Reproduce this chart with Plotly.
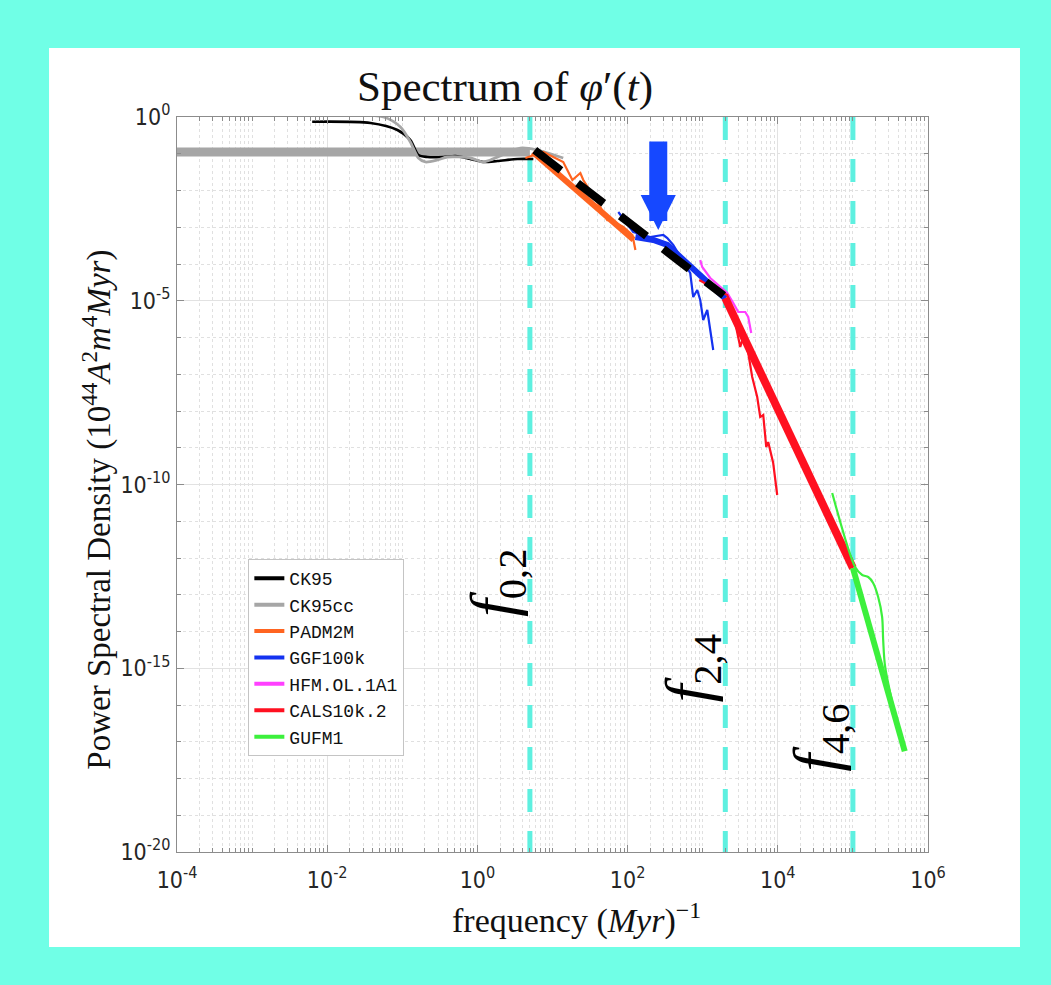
import numpy as np
import plotly.graph_objects as go

# ---------------- spectra: frequency (Myr^-1) and PSD ----------------
F_CK95 = [0.00631, 0.0377, 0.0861, 0.128, 0.164, 0.216, 0.353, 0.51, 0.807, 1.20, 1.85, 3.41, 5.56]
P_CK95 = [0.745, 0.687, 0.443, 0.237, 0.0925, 0.0816, 0.0816, 0.0868, 0.072, 0.0597, 0.0635, 0.072, 0.072]

F_CK95CC = [0.0118, 0.0561, 0.0945, 0.128, 0.164, 0.203, 0.294, 0.399, 0.807, 1.17, 1.49, 3.73, 6.29, 13.9]
P_CK95CC = [1.13, 1.0, 0.535, 0.209, 0.0766, 0.0597, 0.0676, 0.0816, 0.0766, 0.0597, 0.0676, 0.143, 0.126, 0.0766]

F_PADM2M = [4.35, 7.55, 13.9, 18.4, 23.5, 25.7, 43.3, 53.7, 58.9, 87.6, 116, 127]
P_PADM2M = [0.0766, 0.112, 0.0597, 0.0193, 0.0299, 0.0193, 3.56e-3, 1.57e-3, 1.57e-3, 1.02e-3, 6.15e-4, 2.4e-4]

F_GGF100K = [75.2, 119, 200, 299, 338, 405, 682, 748, 846, 927, 1016, 1150, 1260, 1381]
P_GGF100K = [2.6e-3, 7.4e-4, 5.43e-4, 6.15e-4, 5.1e-4, 3.29e-4, 5.69e-5, 1.26e-5, 1.96e-5,
             1.05e-5, 2.99e-6, 5.6e-6, 1.6e-6, 4.57e-7]

F_HFM = [927, 986, 1260, 1713, 2125, 2553, 2972, 3684, 4040, 4427]
P_HFM = [1.28e-4, 8.28e-5, 4.16e-5, 2.37e-5, 1.63e-5, 8.7e-6, 4.94e-6, 4.94e-6, 3.61e-6, 1.33e-6]

F_CALS = [900, 1381, 2125, 2712, 3162, 3467, 4040, 4563, 5321, 5834, 6397, 7014, 7453, 8685, 9820]
P_CALS = [3.67e-5, 2.22e-5, 1.43e-5, 2.48e-6, 5.5e-7, 1.03e-6, 3.79e-7, 8.4e-8, 2.4e-8,
          6.87e-9, 7.78e-9, 1.05e-9, 1.43e-9, 3.84e-10, 5.18e-11]

F_GUFM1 = [5.30e4, 1.07e5, 1.33e5, 1.6e5, 1.86e5, 2.17e5, 2.45e5, 2.53e5, 2.69e5, 4.66e5]
P_GUFM1 = [5.87e-11, 5.69e-13, 3.45e-13, 3.04e-13, 2.09e-13, 8.7e-14, 2.48e-14, 5.9e-15, 1.08e-15, 5.97e-18]

# ---------------- piecewise power-law fits ----------------
FIT_CK95CC_F = [1e-4, 5]
FIT_CK95CC_P = [0.112, 0.112]
FIT_CK95_F = [5.8, 1900]
FIT_CK95_P = [0.125, 1.4e-5]
FIT_PADM2M_F = [5.5, 120]
FIT_PADM2M_P = [0.11, 4.6e-4]
FIT_GGF100K_F = [127, 220, 338, 2000]
FIT_GGF100K_P = [5.43e-4, 4.5e-4, 3.29e-4, 1.15e-5]
FIT_CALS_F = [2000, 1e5]
FIT_CALS_P = [1.19e-5, 5.35e-13]
FIT_GUFM1_F = [1e5, 4.9e5]
FIT_GUFM1_P = [5.35e-13, 5.5e-18]

# characteristic frequencies f_{0,2}, f_{2,4}, f_{4,6}
F_BOUNDS = [5, 2000, 1e5]
F_BOUND_LABELS = ["0,2", "2,4", "4,6"]
F_BOUND_LABEL_P = [2.2e-13, 1.0e-15, 1.35e-17]

# highlighted point (arrow)
ARROW_F = 256
ARROW_P = 8.4e-4

# axes
X_RANGE_EXP = [-4, 6]
Y_RANGE_EXP = [-20, 0]
X_LABEL_EXP = [-4, -2, 0, 2, 4, 6]
Y_LABEL_EXP = [0, -5, -10, -15, -20]

TITLE = "Spectrum of <i>φ</i>′(<i>t</i>)"
X_TITLE = "frequency (<i>Myr</i>)<sup>−1</sup>"
Y_TITLE = "Power Spectral Density (10<sup>44</sup><i>A</i><sup>2</sup><i>m</i><sup>4</sup><i>Myr</i>)"

LEGEND_NAMES = ["CK95", "CK95cc", "PADM2M", "GGF100k", "HFM.OL.1A1", "CALS10k.2", "GUFM1"]
COLORS = {
    "CK95": "#000000",
    "CK95cc": "#a6a6a6",
    "PADM2M": "#ff6420",
    "GGF100k": "#1432f0",
    "HFM.OL.1A1": "#ff40ff",
    "CALS10k.2": "#ff1020",
    "GUFM1": "#3cf03c",
}
BOUND_COLOR = "#5ef0e0"

fig = go.Figure()


def line(x, y, color, width, dash=None, shape="linear"):
    fig.add_trace(go.Scatter(
        x=x, y=y, mode="lines", showlegend=False, hoverinfo="skip",
        line=dict(color=color, width=width, dash=dash, shape=shape, smoothing=0.8),
    ))


# vertical dashed markers at the characteristic frequencies
for f in F_BOUNDS:
    line([f, f], [10 ** Y_RANGE_EXP[1], 10 ** Y_RANGE_EXP[0]], BOUND_COLOR, 5, dash="23px,19px")

# long-period spectra
line(FIT_CK95CC_F, FIT_CK95CC_P, COLORS["CK95cc"], 9)
line(F_CK95, P_CK95, COLORS["CK95"], 2.6, shape="spline")
line(F_CK95CC, P_CK95CC, COLORS["CK95cc"], 2.8, shape="spline")

# PADM2M
line(F_PADM2M, P_PADM2M, COLORS["PADM2M"], 2.2)
line(FIT_PADM2M_F, FIT_PADM2M_P, COLORS["PADM2M"], 6)

# GGF100k
line(F_GGF100K, P_GGF100K, COLORS["GGF100k"], 2.2)
line(FIT_GGF100K_F, FIT_GGF100K_P, COLORS["GGF100k"], 6)

# HFM.OL.1A1
line(F_HFM, P_HFM, COLORS["HFM.OL.1A1"], 2.2)

# CALS10k.2
line(F_CALS, P_CALS, COLORS["CALS10k.2"], 2.2)
line(FIT_CALS_F, FIT_CALS_P, COLORS["CALS10k.2"], 8)

# GUFM1
line(F_GUFM1, P_GUFM1, COLORS["GUFM1"], 2.2, shape="spline")
line(FIT_GUFM1_F, FIT_GUFM1_P, COLORS["GUFM1"], 6)

# CK95 broken power law (dashed)
line(FIT_CK95_F, FIT_CK95_P, COLORS["CK95"], 8, dash="33px,21px")

# legend entries
for name in LEGEND_NAMES:
    fig.add_trace(go.Scatter(
        x=[None], y=[None], mode="lines", name=name,
        line=dict(color=COLORS[name], width=4),
    ))

# tick positions
x_major = [10.0 ** e for e in X_LABEL_EXP]
x_minor = [k * 10.0 ** e for e in range(X_RANGE_EXP[0], X_RANGE_EXP[1])
           for k in range(1, 10) if not (k == 1 and e in X_LABEL_EXP)]
y_major = [10.0 ** e for e in Y_LABEL_EXP]
y_minor = [10.0 ** e for e in range(Y_RANGE_EXP[0], Y_RANGE_EXP[1]) if e not in Y_LABEL_EXP]

tick_font = dict(family="Liberation Sans Narrow, DejaVu Sans Condensed, Arial Narrow, sans-serif",
                 size=23, color="#262626")
serif = "Liberation Serif, DejaVu Serif, serif"

axis_common = dict(
    type="log", showline=True, linecolor="#8c8c8c", linewidth=1, mirror="ticks",
    ticks="inside", ticklen=7, tickcolor="#8c8c8c", tickwidth=1,
    showgrid=True, gridcolor="#e2e2e2", gridwidth=1, zeroline=False,
    tickfont=tick_font, fixedrange=True,
)

fig.update_xaxes(
    **axis_common,
    range=X_RANGE_EXP, tickmode="array", tickvals=x_major,
    ticktext=[f"10<sup>{e}</sup>" for e in X_LABEL_EXP],
    ticklabelstandoff=7,
    minor=dict(tickmode="array", tickvals=x_minor, ticks="inside", ticklen=4,
               tickcolor="#8c8c8c", showgrid=True, gridcolor="#e0e0e0", griddash="dot", gridwidth=1),
)
fig.update_yaxes(
    **axis_common,
    range=Y_RANGE_EXP, tickmode="array", tickvals=y_major,
    ticktext=[f"10<sup>{e}</sup>" for e in Y_LABEL_EXP],
    ticklabelstandoff=1,
    minor=dict(tickmode="array", tickvals=y_minor, ticks="inside", ticklen=4,
               tickcolor="#8c8c8c", showgrid=True, gridcolor="#e0e0e0", griddash="dot", gridwidth=1),
)

annotations = [
    # axis titles
    dict(x=0.5313, y=-0.0898, xref="paper", yref="paper", text=X_TITLE, showarrow=False,
         xanchor="center", yanchor="middle", font=dict(family=serif, size=34, color="#111")),
    dict(x=-0.107, y=0.4653, xref="paper", yref="paper", text=Y_TITLE, showarrow=False,
         textangle=-90, xanchor="center", yanchor="middle",
         font=dict(family=serif, size=33, color="#111")),
]
for f, lab, p in zip(F_BOUNDS, F_BOUND_LABELS, F_BOUND_LABEL_P):
    annotations.append(dict(
        x=np.log10(f), y=np.log10(p), xref="x", yref="y", xshift=-34,
        text=f"<span style='font-size:64px'><i>f</i></span><sub>{lab}</sub>",
        showarrow=False, textangle=-90,
        xanchor="center", yanchor="middle",
        font=dict(family=serif, size=58, color="#000"),
    ))
annotations.append(dict(
    x=np.log10(ARROW_F), y=np.log10(ARROW_P), xref="x", yref="y",
    ax=0, ay=-90, axref="pixel", ayref="pixel", text="", showarrow=True,
    arrowhead=2, arrowwidth=18, arrowsize=0.39, arrowcolor="#1648ff",
))

fig.update_layout(
    width=1051, height=985,
    margin=dict(l=177, r=123, t=117, b=133, autoexpand=False),
    paper_bgcolor="#70ffe6", plot_bgcolor="#ffffff",
    title=dict(text=TITLE, x=0.4805, xanchor="center",
               y=1 - 86 / 985, yanchor="middle", yref="container",
               font=dict(family=serif, size=43, color="#111")),
    shapes=[dict(type="rect", xref="paper", yref="paper", x0=-0.1704, x1=1.1225,
                 y0=-0.1293, y1=1.0939, fillcolor="#ffffff", line=dict(width=0), layer="below")],
    annotations=annotations,
    legend=dict(x=0.095, y=0.3986, xanchor="left", yanchor="top", bgcolor="#ffffff",
                bordercolor="#c4c4c4", borderwidth=1, itemwidth=30,
                font=dict(family="Liberation Mono, Courier New, monospace", size=18, color="#111"),
                tracegroupgap=0),
    showlegend=True,
)

fig.write_html("out.html")
